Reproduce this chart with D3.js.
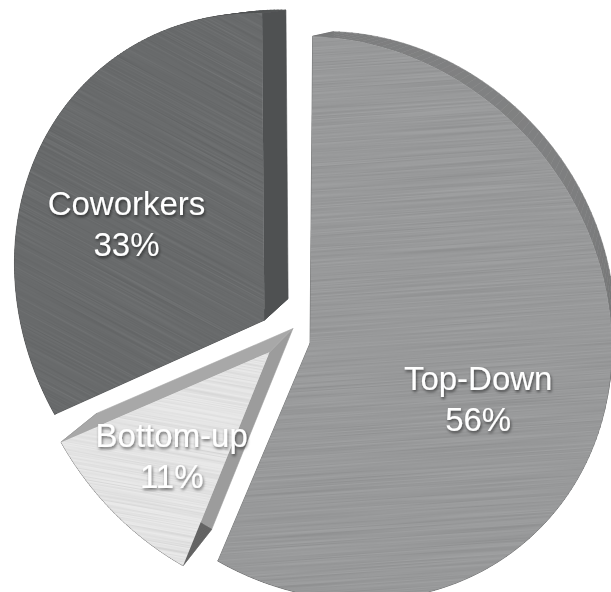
<!DOCTYPE html>
<html>
<head>
<meta charset="utf-8">
<script src="https://cdn.jsdelivr.net/npm/d3@7"></script>
<style>
  body { margin: 0; background: #fff; }
</style>
</head>
<body>
<div id="container"></div>
<script>
var width = 611,
    height = 592;

var categories = ["Top-Down", "Bottom-up", "Coworkers"];
var values = [56, 11, 33];
var pctLabels = ["56%", "11%", "33%"];

var faceColors = ["#9c9d9e", "#e9e9e9", "#6b6d6e"];
var streakAngles = [-4, 10, 28];

// tilted view of the pie: centre, scales, perspective and explode distance
var tilt = { cx: 285.6, cy: 335.5, sx: 271.4, sy: 275.7, px: 0.0827, py: 0.0985,
             kyx: -33.07, kxy: -0.015, explode: 0.091 };
var vanish = [660, -40], depth = 0.06;

var arcs = d3.pie().sort(null).value(function(d) { return d; })(values);

function project(x, y) {
  var w = 1 - tilt.px * x - tilt.py * y;
  return [tilt.cx + (tilt.sx * x + tilt.kxy * y) / w,
          tilt.cy - (tilt.sy * y + tilt.kyx * x) / w];
}

//point at angle theta and radius r from a slice's own (exploded) centre
function pointAt(a, theta, r) {
  var m = (a.startAngle + a.endAngle) / 2;
  var vx = tilt.explode * Math.sin(m), vy = tilt.explode * Math.cos(m);
  return project(vx + r * Math.sin(theta), vy + r * Math.cos(theta));
}

var svg = d3.select("#container").append("svg")
  .attr("width", width)
  .attr("height", height);

var defs = svg.append("defs");

//brushed metal streaks
var streak = defs.append("filter").attr("id", "streaks")
  .attr("x", 0).attr("y", 0).attr("width", 1).attr("height", 1);
streak.append("feTurbulence")
  .attr("type", "fractalNoise")
  .attr("baseFrequency", "0.005 0.7")
  .attr("numOctaves", 2)
  .attr("seed", 7)
  .attr("stitchTiles", "stitch")
  .attr("result", "noise");
streak.append("feColorMatrix")
  .attr("in", "noise").attr("type", "matrix")
  .attr("values", "0 0 0 0 0  0 0 0 0 0  0 0 0 0 0  0.2 0 0 0 -0.075")
  .attr("result", "dark");
streak.append("feColorMatrix")
  .attr("in", "noise").attr("type", "matrix")
  .attr("values", "0 0 0 0 1  0 0 0 0 1  0 0 0 0 1  -0.2 0 0 0 0.08")
  .attr("result", "light");
var sm = streak.append("feMerge");
sm.append("feMergeNode").attr("in", "dark");
sm.append("feMergeNode").attr("in", "light");

streakAngles.forEach(function(ang, i) {
  var pat = defs.append("pattern")
    .attr("id", "brush" + i)
    .attr("patternUnits", "userSpaceOnUse")
    .attr("width", 900).attr("height", 900)
    .attr("patternTransform", "rotate(" + ang + ")");
  pat.append("rect")
    .attr("width", 900).attr("height", 900)
    .attr("fill", "#fff")
    .attr("filter", "url(#streaks)");
});

var shadow = defs.append("filter").attr("id", "txtshadow")
  .attr("x", "-20%").attr("y", "-30%").attr("width", "140%").attr("height", "170%");
shadow.append("feDropShadow")
  .attr("dx", 1).attr("dy", 2)
  .attr("stdDeviation", 1.4)
  .attr("flood-color", "#000")
  .attr("flood-opacity", 0.55);

var color = d3.scaleOrdinal(categories, faceColors);
var line = d3.line();

var g = svg.append("g");

arcs.forEach(function(a, i) {
  var n0 = 160;
  var front = [pointAt(a, 0, 0)].concat(d3.range(n0 + 1).map(function(k) {
    return pointAt(a, a.startAngle + (a.endAngle - a.startAngle) * k / n0, 1);
  }));
  var back = front.map(function(p) {
    return [p[0] + depth * (vanish[0] - p[0]), p[1] + depth * (vanish[1] - p[1])];
  });
  var face = color(categories[i]);
  var n = front.length;

  //side walls, shaded by which way they face
  for (var k = 0; k < n; k++) {
    var p = front[k], q = front[(k + 1) % n];
    var dx = q[0] - p[0], dy = q[1] - p[1];
    var len = Math.sqrt(dx * dx + dy * dy) || 1;
    var nx = dy / len, ny = -dx / len;
    var f = 0.62 + 0.12 * nx - 0.16 * ny;
    var c = d3.interpolateRgb("#000", face)(f);
    g.append("path")
      .attr("d", line([p, q, back[(k + 1) % n], back[k]]) + "Z")
      .attr("fill", c)
      .attr("stroke", c)
      .attr("stroke-width", 0.6);
  }

  var d = line(front) + "Z";
  g.append("path")
    .attr("class", "slice")
    .attr("d", d)
    .attr("fill", face);
  g.append("path")
    .attr("d", d)
    .attr("fill", "url(#brush" + i + ")");
});

var labels = svg.append("g")
  .attr("font-family", "'Liberation Sans', Arial, Helvetica, sans-serif")
  .attr("font-size", 33)
  .attr("fill", "#fff")
  .attr("text-anchor", "middle")
  .attr("filter", "url(#txtshadow)");

arcs.forEach(function(a, i) {
  var m = (a.startAngle + a.endAngle) / 2;
  var c = pointAt(a, m, 0.6);
  labels.append("text")
    .attr("x", c[0]).attr("y", c[1] - 6)
    .text(categories[i]);
  labels.append("text")
    .attr("x", c[0]).attr("y", c[1] + 35)
    .text(pctLabels[i]);
});
</script>
</body>
</html>
